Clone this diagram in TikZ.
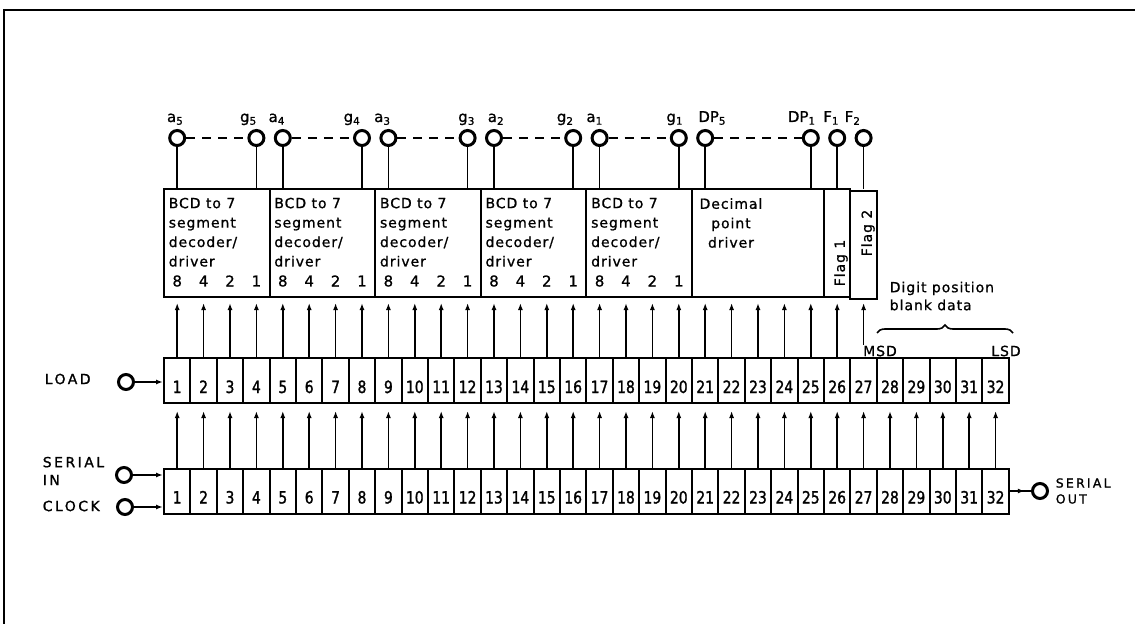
\documentclass[tikz,border=0pt]{standalone}
\usepackage{fontspec}
\setmainfont{DejaVu Sans}[FakeBold=1]
\newfontfamily\wide[LetterSpace=18,FakeBold=1.2]{DejaVu Sans}
\newfontfamily\blkfnt[LetterSpace=7,FakeBold=1]{DejaVu Sans}
\newfontfamily\narrow[FakeStretch=0.82,FakeBold=1.4]{DejaVu Sans}
\usetikzlibrary{positioning,arrows.meta,decorations.pathreplacing}

\tikzset{
  cell/.style={draw,line width=2bp,minimum width=26.4bp,minimum height=45bp,
    inner sep=2bp,text height=28bp,text depth=3bp,
    font=\narrow\fontsize{17}{17}\selectfont},
  blk/.style={draw,line width=2bp,minimum height=108bp,inner sep=0pt},
  blktext/.style={inner sep=0pt,align=left,font=\blkfnt\fontsize{14}{19.5}\selectfont},
  wt/.style={inner sep=0pt,font=\fontsize{15}{15}\selectfont},
  pinc/.style={circle,draw,line width=3bp,minimum size=15bp,inner sep=0pt},
  io/.style={circle,draw,line width=3bp,minimum size=15bp,inner sep=0pt},
  pinlbl/.style={inner sep=0pt,font=\fontsize{15}{15}\selectfont},
  lbl/.style={inner sep=0pt,align=left,font=\wide\fontsize{14}{18}\selectfont},
  txt/.style={inner sep=0pt,align=left,font=\blkfnt\fontsize{14}{18}\selectfont}
}

\begin{document}
\begin{tikzpicture}[x=1bp,y=-1bp,>={Latex[length=7bp,width=5bp]},line width=1.6bp]
  \useasboundingbox (0,0) rectangle (1135,624);
  \draw[line width=2.5bp] (4,624) -- (4,10) -- (1135,10);

  % the two 32 bit registers
  \foreach \i in {1,...,32} {
    \node[cell] (l\i) at ({150.8+26.4*\i},380.5) {\i};
    \node[cell] (s\i) at ({150.8+26.4*\i},491) {\i};
  }

  % decoder / driver blocks
  \coordinate (blktop) at (0,189);
  \coordinate (tipA) at (0,303);
  \coordinate (tipB) at (0,411);
  \foreach \k in {1,...,5} {
    \node[blk,minimum width=105.6bp] (dec\k) at ({111.2+105.6*\k},243) {};
    \node[blktext,anchor=north west] (txt\k) at ([shift={(5bp,-9bp)}]dec\k.north west)
      {BCD to 7\\segment\\decoder/\\driver};
  }
  \node[blk,minimum width=132bp] (dp) at (758,243) {};
  \node[blktext,align=center] (dptxt) at (731,223) {Decimal\\point\\driver};
  \node[blk,minimum width=26.4bp] (flA) at (837.2,243) {};
  \node[blk,minimum width=26.4bp] (flB) at (863.6,245) {};
  \node[blktext,rotate=90] (flAt) at (841,263) {Flag 1};
  \node[blktext,rotate=90] (flBt) at (868,233) {Flag 2};

  % BCD weights
  \foreach \i in {1,...,20} {
    \pgfmathtruncatemacro\w{2^(3-mod(\i-1,4))}
    \node[wt] (w\i) at ({150.8+26.4*\i},281) {\w};
  }

  % register to register, register to blocks
  \foreach \i in {1,...,26} \draw[->] (l\i.north) -- (l\i.north |- tipA);
  \foreach \i in {1,...,32} \draw[->] (s\i.north) -- (s\i.north |- tipB);

  \node[txt] (msd) at (880,351) {MSD};
  \node[txt] (lsd) at (1006,351) {LSD};
  \draw[->] (l27.north |- msd.north) -- (l27.north |- tipA);
  \draw[decorate,decoration={brace,amplitude=8bp}] (877,333) -- (1013,333);
  \node[txt,anchor=west] (blank) at (889,296) {Digit position\\blank data};

  % output pins
  \foreach \c/\t/\dx in {1/a\textsubscript{5}/-2, 4/g\textsubscript{5}/-8,
      5/a\textsubscript{4}/-6, 8/g\textsubscript{4}/-10, 9/a\textsubscript{3}/-6,
      12/g\textsubscript{3}/-1, 13/a\textsubscript{2}/2, 16/g\textsubscript{2}/-8,
      17/a\textsubscript{1}/-5, 20/g\textsubscript{1}/-4, 21/DP\textsubscript{5}/7,
      25/DP\textsubscript{1}/-9, 26/F\textsubscript{1}/-6, 27/F\textsubscript{2}/-11} {
    \node[pinc] (t\c) at ({150.8+26.4*\c},138) {};
    \node[pinlbl,anchor=base] (n\c) at ({150.8+26.4*\c+\dx},122) {\t};
    \draw (t\c.south) -- (t\c.south |- blktop);
  }
  \foreach \a/\b in {1/4,5/8,9/12,13/16,17/20,21/25}
    \draw[dash pattern=on 9bp off 7bp] (t\a) -- (t\b);

  % inputs and output
  \node[lbl,anchor=west] (loadt) at (44,379) {LOAD};
  \node[io] (load) at (126,382) {};
  \draw[->] (load) -- (load -| l1.west);
  \node[lbl,anchor=west] (sint) at (42,471) {SERIAL\\IN};
  \node[io] (sin) at (124,475) {};
  \draw[->] (sin) -- (sin -| s1.west);
  \node[lbl,anchor=west] (clkt) at (42,506) {CLOCK};
  \node[io] (clk) at (125,507) {};
  \draw[->] (clk) -- (clk -| s1.west);
  \node[io] (sout) at (1040,491) {};
  \draw (s32.east |- sout) -- (sout);
  \draw[->] (s32.east |- sout) -- ++(15bp,0);
  \node[lbl,anchor=west,font=\wide\fontsize{12.5}{16}\selectfont] (soutt) at (1055,491) {SERIAL\\OUT};
\end{tikzpicture}
\end{document}
